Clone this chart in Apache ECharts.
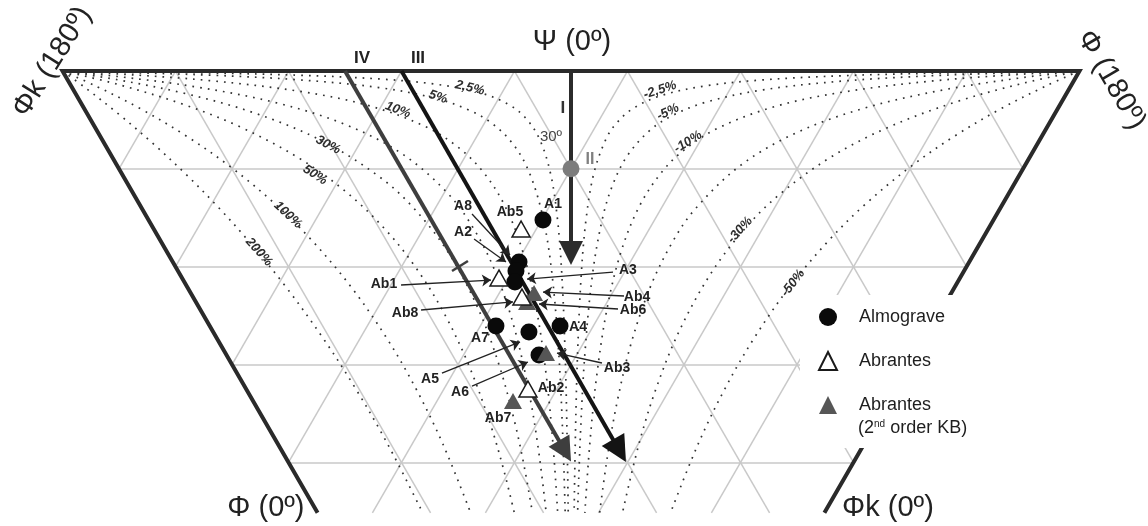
<!DOCTYPE html>
<html>
<head>
<meta charset="utf-8">
<script src="https://cdn.jsdelivr.net/npm/echarts/dist/echarts.min.js"></script>
<style>
  html, body { margin: 0; padding: 0; background: #fff; }
  #chart { width: 1148px; height: 526px; }
</style>
</head>
<body>
<div id="chart"></div>
<script>
// Diagram units: one triangle side = 10. xi runs across from the Psi axis,
// tau runs downward from the top edge (Psi = 0 deg line).
const FONT = "'Liberation Sans', Arial, Helvetica, sans-serif";

// ---- samples [name, xi, tau] ----
const ALMOGRAVE = [
  ['A1', -2.48, 13.19], ['A8', -4.60, 16.90], ['A2', -4.87, 17.70], ['A3', -4.96, 18.67],
  ['A7', -6.64, 22.57], ['A5', -3.72, 23.10], ['A4', -0.97, 22.57], ['A6', -2.83, 25.13]
];
const ABRANTES = [
  ['Ab5', -4.42, 13.98], ['Ab1', -6.37, 18.32], ['Ab8', -4.34, 20.00], ['Ab2', -3.81, 28.14]
];
const ABRANTES_KB2 = [
  ['Ab4', -3.27, 19.65], ['Ab6', -3.89, 20.44], ['Ab3', -2.21, 24.96], ['Ab7', -5.13, 29.20]
];

// ---- iso-percentage curves (dotted), points [xi, tau] ----
const ISO_P2_5 = [[-45,0],[-40,0.054],[-32,0.175],[-24,0.375],[-17,0.703],[-12,1.167],[-8,1.942],[-5.5,2.975],[-4,4.178],[-2.796,6],[-1.827,9],[-1.209,13],[-0.813,18],[-0.52,25],[-0.354,32],[-0.246,39.1]];
const ISO_P5 = [[-45,0],[-40,0.113],[-32,0.367],[-24,0.786],[-17,1.466],[-12,2.418],[-9,3.468],[-7,4.633],[-5.104,6.5],[-3.684,9],[-2.473,13],[-1.679,18],[-1.083,25],[-0.74,32],[-0.514,39.1]];
const ISO_P10 = [[-45,0],[-40,0.262],[-32,0.847],[-24,1.801],[-18,3.036],[-13,4.861],[-10,6.736],[-7.718,9],[-5.819,12],[-4.262,16],[-3.073,21],[-2.183,27],[-1.597,33],[-1.177,39.1]];
const ISO_P20 = [[-45,0],[-40,0.5],[-33,1.436],[-26,2.833],[-20,4.725],[-15,7.295],[-11,10.725],[-8.587,14],[-6.602,18],[-4.941,23],[-3.607,29],[-2.815,34],[-2.195,39.1]];
const ISO_P30 = [[-45,0],[-40,0.796],[-34,2.029],[-28,3.72],[-22,6.194],[-17,9.331],[-14.045,12],[-10.9,16],[-8.232,21],[-6.372,26],[-5.001,31],[-4.139,35],[-3.411,39.1]];
const ISO_P50 = [[-45,0],[-40,1.211],[-34,3.059],[-29,5.076],[-24,7.753],[-20,10.621],[-16.455,14],[-13.661,17.5],[-11.199,21.5],[-9.061,26],[-7.22,31],[-6.034,35],[-5.013,39.1]];
const ISO_P100 = [[-45,0],[-42,1.355],[-38,3.397],[-34,5.781],[-30,8.583],[-26,11.934],[-22.925,15],[-19.544,19],[-16.399,23.5],[-13.781,28],[-11.343,33],[-8.88,39.1]];
const ISO_P200 = [[-45,0],[-43,1.472],[-40,3.839],[-37,6.412],[-34,9.219],[-31.269,12],[-28.571,15],[-25.312,19],[-22.042,23.5],[-19.126,28],[-16.235,33],[-13.123,39.1]];
const ISO_N2_5 = [[45,0],[40,0.06],[32,0.195],[24,0.42],[17,0.786],[12,1.303],[8,2.167],[5.5,3.314],[4,4.646],[3.106,6],[2.035,9],[1.348,13],[0.908,18],[0.582,25],[0.396,32],[0.275,39.1]];
const ISO_N5 = [[45,0],[40,0.129],[32,0.418],[24,0.895],[17,1.667],[12,2.743],[9,3.928],[7,5.236],[4.986,7.5],[3.72,10],[2.797,13],[1.904,18],[1.23,25],[0.841,32],[0.585,39.1]];
const ISO_N10 = [[45,0],[40,0.274],[32,0.882],[24,1.876],[18,3.161],[13,5.056],[10,6.998],[7.99,9],[6.034,12],[4.427,16],[3.195,21],[2.272,27],[1.663,33],[1.225,39.1]];
const ISO_N20 = [[45,0],[40,0.581],[33,1.665],[26,3.276],[20,5.442],[15,8.357],[11,12.2],[9.057,15],[7.066,19],[5.351,24],[4.141,29],[3.241,34],[2.533,39.1]];
const ISO_N30 = [[45,0],[40,1.088],[34,2.757],[28,5.016],[23,7.62],[18.5,10.884],[15.345,14],[12.327,18],[9.585,23],[7.565,28],[6.015,33],[4.552,39.1]];
const ISO_N50 = [[45,0],[42,1.341],[38,3.364],[34,5.726],[30,8.505],[26,11.831],[22.809,15],[19.431,19],[16.292,23.5],[13.683,28],[11.257,33],[8.807,39.1]];
const ISO_CURVES = [ISO_P2_5, ISO_P5, ISO_P10, ISO_P20, ISO_P30, ISO_P50, ISO_P100, ISO_P200,
                    ISO_N2_5, ISO_N5, ISO_N10, ISO_N20, ISO_N30, ISO_N50];

// curve captions [text, xi, tau, rotation deg]
const ISO_CAPTIONS = [
  ['2,5%', -8.94, 1.50, -13], ['5%', -11.77, 2.30, -18], ['10%', -15.31, 3.45, -21],
  ['30%', -21.50, 6.55, -28], ['50%', -22.65, 9.20, -33], ['100%', -25.04, 12.74, -43],
  ['200%', -27.61, 16.02, -48],
  ['-2,5%', 7.88, 1.68, 18], ['-5%', 8.58, 3.63, 26], ['-10%', 10.35, 6.28, 32],
  ['-30%', 14.96, 14.07, 48], ['-50%', 19.65, 18.76, 52]
];

// ---- frame of the diagram ----
const HALF_TOP = 45;          // top edge spans -45 .. 45
const TAU_CLIP = 39.1;        // lowest drawn depth
const ROW_TAU = [8.66, 17.32, 25.98, 34.64];
const LATTICE_TOPS = [-45, -35, -25, -15, -5, 5, 15, 25, 35, 45];
const SLOPE = 1 / Math.sqrt(3);

// corner / axis captions [text, xi, tau, rotation deg, size]
const AXIS_CAPTIONS = [
  ['\u03A8 (0\u00BA)', 0.09, -2.57, 0, 29],
  ['\u03A6k (180\u00BA)', -45.9, -0.8, 58, 29],
  ['\u03A6 (180\u00BA)', 47.8, 0.8, -60, 29],
  ['\u03A6 (0\u00BA)', -27.0, 38.67, 0, 29],
  ['\u03A6k (0\u00BA)', 28.05, 38.67, 0, 29]
];

// ---- paths I, III, IV (end = centre of the arrow head) ----
const PATH_I = [[0, 0], [0, 16.1]];
const PATH_III = [[-15, 0], [4.29, 33.6]];
const PATH_IV = [[-20, 0], [-0.53, 33.63]];
const POINT_II = [0, 8.66];
const TICK_IV = [[-10.53, 17.70], [-9.12, 16.81]];
const PATH_CAPTIONS = [
  ['IV', -18.5, -1.15, 'bold', 17, '#222'], ['III', -13.54, -1.15, 'bold', 17, '#222'],
  ['I', -0.71, 3.27, 'bold', 17, '#333'], ['30\u00BA', -1.77, 5.84, 'normal', 15, '#444'],
  ['II', 1.68, 7.88, 'bold', 16, '#808080']
];

// ---- sample tags: text position and optional pointer [text, xi, tau, fromXi, fromTau, toXi, toTau] ----
const TAGS = [
  ['A1', -1.59, 11.77], ['Ab5', -5.40, 12.48], ['A4', 0.62, 22.65], ['A7', -8.05, 23.63],
  ['Ab2', -1.77, 28.05], ['Ab7', -6.46, 30.71],
  ['A8', -9.56, 11.95, -8.76, 12.65, -5.40, 16.28],
  ['A2', -9.56, 14.25, -8.58, 14.87, -5.75, 16.90],
  ['A3', 5.04, 17.61, 3.72, 17.79, -3.89, 18.41],
  ['Ab1', -16.55, 18.85, -15.04, 18.94, -7.08, 18.50],
  ['Ab4', 5.84, 20.00, 4.69, 19.91, -2.48, 19.56],
  ['Ab6', 5.49, 21.15, 4.16, 21.06, -2.83, 20.62],
  ['Ab8', -14.69, 21.42, -13.27, 21.15, -5.13, 20.44],
  ['A5', -12.48, 27.26, -11.42, 26.73, -4.51, 23.98],
  ['A6', -9.82, 28.41, -8.76, 27.88, -3.81, 25.75],
  ['Ab3', 4.07, 26.28, 2.74, 25.84, -1.24, 24.96]
];

// ---- lattice (equilateral triangle grid clipped to the frame) ----
const lattice = [];
ROW_TAU.forEach(t => {
  lattice.push({ coords: [[-HALF_TOP + t * SLOPE, t], [HALF_TOP - t * SLOPE, t]] });
});
LATTICE_TOPS.forEach(x0 => {
  if (x0 > -HALF_TOP && x0 < HALF_TOP) {
    const tR = Math.min((HALF_TOP - x0) * Math.sqrt(3) / 2, TAU_CLIP);
    lattice.push({ coords: [[x0, 0], [x0 + tR * SLOPE, tR]] });
    const tL = Math.min((x0 + HALF_TOP) * Math.sqrt(3) / 2, TAU_CLIP);
    lattice.push({ coords: [[x0, 0], [x0 - tL * SLOPE, tL]] });
  }
});
const frame = [[-HALF_TOP + TAU_CLIP * SLOPE, TAU_CLIP], [-HALF_TOP, 0], [HALF_TOP, 0], [HALF_TOP - TAU_CLIP * SLOPE, TAU_CLIP]];

// pixel scale: 11.3 px per unit, Psi axis at x = 571, top edge at y = 71
const PX = 11.3, W = 1148, H = 526, X0 = 571, Y0 = 71;

const series = [];
series.push({
  type: 'lines', coordinateSystem: 'cartesian2d', silent: true, z: 1,
  lineStyle: { color: '#c9c9c9', width: 1.5, opacity: 1, curveness: 0 },
  data: lattice
});
ISO_CURVES.forEach(c => series.push({
  type: 'line', data: c, showSymbol: false, smooth: 0.35, silent: true, z: 2,
  lineStyle: { color: '#333', width: 1.7, type: [1.7, 6] }
}));
series.push({
  type: 'lines', coordinateSystem: 'cartesian2d', polyline: true, silent: true, z: 3,
  lineStyle: { color: '#2a2a2a', width: 4, opacity: 1, join: 'miter' },
  data: [{ coords: frame }]
});
// paths
series.push({
  type: 'lines', coordinateSystem: 'cartesian2d', silent: true, z: 4,
  symbol: ['none', 'triangle'], symbolSize: 24,
  lineStyle: { color: '#2b2b2b', width: 4, opacity: 1 },
  data: [{ coords: PATH_I }]
});
series.push({
  type: 'lines', coordinateSystem: 'cartesian2d', silent: true, z: 4,
  symbol: ['none', 'triangle'], symbolSize: 26,
  lineStyle: { color: '#141414', width: 4, opacity: 1 },
  data: [{ coords: PATH_III }]
});
series.push({
  type: 'lines', coordinateSystem: 'cartesian2d', silent: true, z: 4,
  symbol: ['none', 'triangle'], symbolSize: 24,
  lineStyle: { color: '#3e3e3e', width: 4, opacity: 1 },
  data: [{ coords: PATH_IV }]
});
series.push({
  type: 'lines', coordinateSystem: 'cartesian2d', silent: true, z: 4,
  lineStyle: { color: '#3e3e3e', width: 2.5, opacity: 1 },
  data: [{ coords: TICK_IV }]
});
series.push({
  type: 'scatter', silent: true, z: 5, symbolSize: 17,
  itemStyle: { color: '#7c7c7c', opacity: 1 }, data: [POINT_II]
});
// samples
const toItem = r => ({ name: r[0], value: [r[1], r[2]] });
series.push({
  type: 'scatter', name: 'Almograve', z: 5, symbol: 'circle', symbolSize: 17,
  itemStyle: { color: '#0a0a0a', opacity: 1 }, data: ALMOGRAVE.map(toItem)
});
series.push({
  type: 'scatter', name: 'Abrantes (2nd order KB)', z: 6, symbol: 'triangle', symbolSize: [18, 16],
  itemStyle: { color: '#565656', opacity: 1 }, data: ABRANTES_KB2.map(toItem)
});
series.push({
  type: 'scatter', name: 'Abrantes', z: 7, symbol: 'triangle', symbolSize: [18, 16],
  itemStyle: { color: '#fff', borderColor: '#1a1a1a', borderWidth: 1.5, opacity: 1 }, data: ABRANTES.map(toItem)
});
// pointers from tags
series.push({
  type: 'lines', coordinateSystem: 'cartesian2d', silent: true, z: 8,
  symbol: ['none', 'arrow'], symbolSize: 9,
  lineStyle: { color: '#222', width: 1.3, opacity: 1 },
  data: TAGS.filter(t => t.length > 3).map(t => ({ coords: [[t[3], t[4]], [t[5], t[6]]] }))
});
// text layers
const textLayer = (items, base) => ({
  type: 'scatter', silent: true, z: 9, symbolSize: 1, itemStyle: { color: 'rgba(0,0,0,0)', opacity: 1 },
  label: Object.assign({ show: true, position: 'inside', formatter: '{b}', fontFamily: FONT }, base),
  labelLayout: { hideOverlap: false },
  data: items
});
series.push(textLayer(TAGS.map(t => ({ name: t[0], value: [t[1], t[2]] })),
  { fontSize: 14, fontWeight: 'bold', color: '#222' }));
series.push(textLayer(ISO_CAPTIONS.map(c => ({ name: c[0], value: [c[1], c[2]], label: { rotate: c[3] } })),
  { fontSize: 13, fontWeight: 'bold', fontStyle: 'italic', color: '#2e2e2e' }));
series.push(textLayer(AXIS_CAPTIONS.map(c => ({ name: c[0], value: [c[1], c[2]], label: { rotate: c[3], fontSize: c[4] } })),
  { color: '#222' }));
series.push(textLayer(PATH_CAPTIONS.map(c => ({ name: c[0], value: [c[1], c[2]], label: { fontWeight: c[3], fontSize: c[4], color: c[5] } })),
  {}));

const chart = echarts.init(document.getElementById('chart'));
chart.setOption({
  animation: false,
  backgroundColor: '#fff',
  grid: { left: 0, right: 0, top: 0, bottom: 0 },
  xAxis: { type: 'value', min: -X0 / PX, max: (W - X0) / PX, show: false },
  yAxis: { type: 'value', inverse: true, min: -Y0 / PX, max: (H - Y0) / PX, show: false },
  legend: {
    z: 10, left: 813, top: 303, orient: 'vertical', selectedMode: false,
    itemWidth: 18, itemHeight: 18, itemGap: 25,
    data: [
      { name: 'Almograve', icon: 'circle' },
      { name: 'Abrantes', icon: 'triangle' },
      { name: 'Abrantes (2nd order KB)', icon: 'triangle' }
    ],
    formatter: n => '{g|}' + (n.indexOf('Abrantes (') === 0 ? 'Abrantes' : n),
    textStyle: { fontSize: 18, color: '#1e1e1e', fontFamily: FONT, rich: { g: { width: 17 } } }
  },
  graphic: [
    { type: 'rect', z: 8, silent: true, shape: { x: 800, y: 295, width: 212, height: 153 }, style: { fill: '#fff' } },
    {
      type: 'text', z: 10, silent: true, left: 858, top: 419,
      style: {
        text: '(2{sup|nd} order KB)', font: '18px ' + FONT, fill: '#1e1e1e',
        rich: { sup: { fontSize: 10, verticalAlign: 'top', fontFamily: FONT } }
      }
    }
  ],
  series: series
});
</script>
</body>
</html>
